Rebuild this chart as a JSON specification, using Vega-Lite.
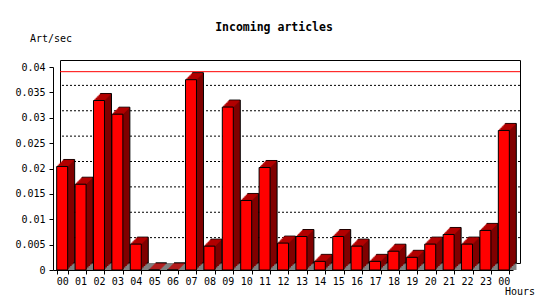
{
  "$schema": "https://vega.github.io/schema/vega-lite/v6.json",
  "width": 460,
  "height": 203,
  "autosize": {"type": "none"},
  "padding": {"left": 60, "top": 60, "right": 30, "bottom": 37},
  "background": "white",
  "title": {"text": "Incoming articles", "font": "DejaVu Sans Mono", "fontSize": 11.5, "fontWeight": "bold", "color": "black", "anchor": "middle", "frame": "group", "dx": -16, "dy": 19.5, "offset": 3, "baseline": "alphabetic"},
  "config": {
    "view": {"stroke": "black", "strokeWidth": 1},
    "axis": {"labelFont": "DejaVu Sans Mono", "titleFont": "DejaVu Sans Mono", "labelFontSize": 10, "titleFontSize": 10, "labelColor": "black", "titleColor": "black", "titleFontWeight": "normal", "domainColor": "black", "tickColor": "black", "grid": false, "labelOverlap": false}
  },
  "layer": [
    {
      "data": {"values": [{"v": 0.005}, {"v": 0.01}, {"v": 0.015}, {"v": 0.02}, {"v": 0.025}, {"v": 0.03}, {"v": 0.035}]},
      "mark": {"type": "rule", "stroke": "black", "strokeDash": [2, 2], "strokeWidth": 1},
      "encoding": {"y": {
        "field": "v", "type": "quantitative",
        "scale": {"domain": [0, 0.04], "nice": false},
        "axis": {"title": "Art/sec", "titleAngle": 0, "titleX": -23.5, "titleY": -26, "titleAlign": "left", "titleBaseline": "alphabetic", "values": [0, 0.005, 0.01, 0.015, 0.02, 0.025, 0.03, 0.035, 0.04], "format": "~g", "tickSize": 4, "labelPadding": 4, "offset": 14, "translate": 7.5, "labelOverlap": false, "tickCount": 9}
      }}
    },
    {
      "data": {"values": [{"m": 0.0377}]},
      "mark": {"type": "rule", "stroke": "#ff0000", "strokeWidth": 1, "opacity": 1, "strokeOpacity": 1},
      "encoding": {"y": {"field": "m", "type": "quantitative"}}
    },
    {
      "data": {"values": [{"z": 0}]},
      "mark": {"type": "rule", "stroke": "#808080", "strokeWidth": 7, "xOffset": -3.5, "yOffset": 3.5},
      "encoding": {"y": {"field": "z", "type": "quantitative"}}
    },
    {
      "data": {"values": [
        {"hour": "00", "value": 0.0204},
        {"hour": "01", "value": 0.0169},
        {"hour": "02", "value": 0.0334},
        {"hour": "03", "value": 0.0307},
        {"hour": "04", "value": 0.0051},
        {"hour": "05", "value": 0},
        {"hour": "06", "value": 0},
        {"hour": "07", "value": 0.0375},
        {"hour": "08", "value": 0.0047},
        {"hour": "09", "value": 0.0321},
        {"hour": "10", "value": 0.0137},
        {"hour": "11", "value": 0.0202},
        {"hour": "12", "value": 0.0053},
        {"hour": "13", "value": 0.0066},
        {"hour": "14", "value": 0.0017},
        {"hour": "15", "value": 0.0066},
        {"hour": "16", "value": 0.0047},
        {"hour": "17", "value": 0.0017},
        {"hour": "18", "value": 0.0037},
        {"hour": "19", "value": 0.0025},
        {"hour": "20", "value": 0.0051},
        {"hour": "21", "value": 0.007},
        {"hour": "22", "value": 0.0051},
        {"hour": "23", "value": 0.0078},
        {"hour": "24", "value": 0.0275}
      ]},
      "encoding": {
        "x": {
          "field": "hour", "type": "ordinal", "sort": null,
          "scale": {"paddingInner": 0.403, "paddingOuter": 0.2},
          "axis": {"title": "Hours", "titleX": 451.5, "titleY": 24.5, "titleAlign": "left", "titleBaseline": "alphabetic", "labelAngle": 0, "labelExpr": "datum.label == '24' ? '00' : datum.label", "tickBand": "extent", "tickSize": 4, "labelPadding": 2, "offset": 14, "translate": -6.5}
        },
        "y": {
          "field": "value", "type": "quantitative"
        }
      },
      "layer": [
        {"mark": {"type": "bar", "fill": "#800000", "stroke": "black", "strokeWidth": 1}},
        {"mark": {"type": "bar", "fill": "#800000", "xOffset": -1.5, "yOffset": 1.5, "y2Offset": 1.5}},
        {"mark": {"type": "bar", "fill": "#800000", "xOffset": -3, "yOffset": 3, "y2Offset": 3}},
        {"mark": {"type": "bar", "fill": "#800000", "xOffset": -4.5, "yOffset": 4.5, "y2Offset": 4.5}},
        {"mark": {"type": "bar", "fill": "#800000", "xOffset": -6, "yOffset": 6, "y2Offset": 6}},
        {"mark": {"type": "tick", "color": "#c00000", "size": 11, "thickness": 1.5, "xOffset": -1, "yOffset": 1}},
        {"mark": {"type": "tick", "color": "#c00000", "size": 11, "thickness": 1.5, "xOffset": -2, "yOffset": 2}},
        {"mark": {"type": "tick", "color": "#c00000", "size": 11, "thickness": 1.5, "xOffset": -3, "yOffset": 3}},
        {"mark": {"type": "tick", "color": "#c00000", "size": 11, "thickness": 1.5, "xOffset": -4, "yOffset": 4}},
        {"mark": {"type": "tick", "color": "#c00000", "size": 11, "thickness": 1.5, "xOffset": -5, "yOffset": 5}},
        {"mark": {"type": "tick", "color": "#c00000", "size": 11, "thickness": 1.5, "xOffset": -6, "yOffset": 6}},
        {"mark": {"type": "bar", "fill": "#ff0000", "stroke": "black", "strokeWidth": 1, "xOffset": -7, "yOffset": 7, "y2Offset": 7}}
      ]
    }
  ]
}
